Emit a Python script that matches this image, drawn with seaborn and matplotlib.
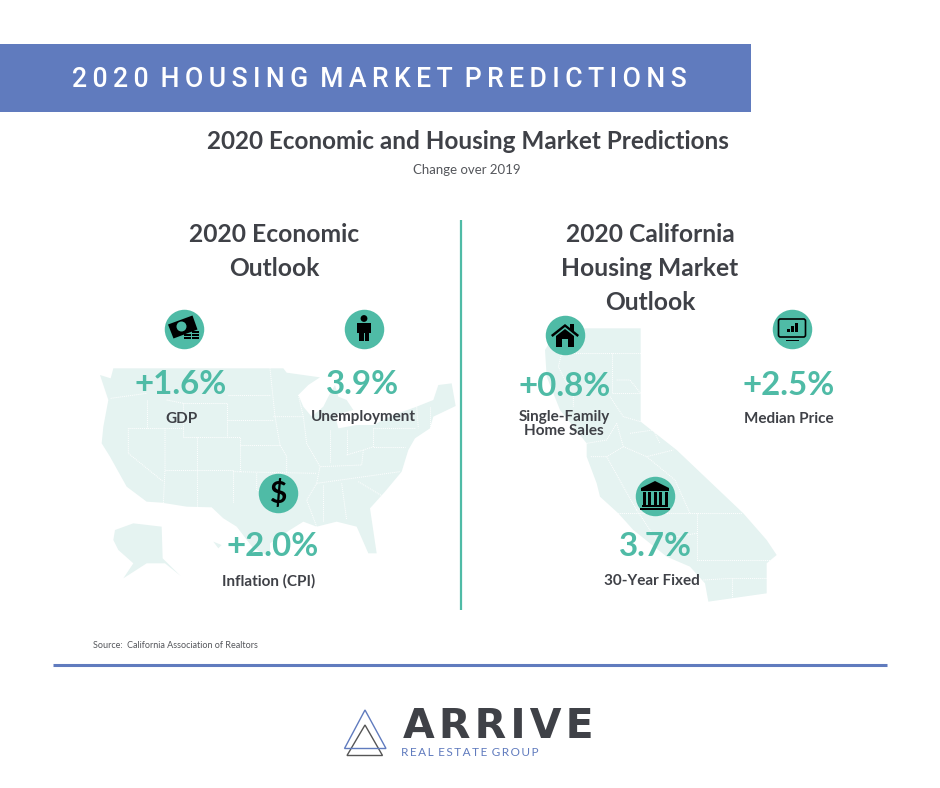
import matplotlib
matplotlib.use("Agg")
import matplotlib.pyplot as plt
from matplotlib.patches import Rectangle, Polygon, Circle, FancyBboxPatch
import numpy as np
import pandas as pd
import seaborn as sns

# ---- data ----
band_title = "2020 HOUSING MARKET PREDICTIONS"
title = "2020 Economic and Housing Market Predictions"
subtitle = "Change over 2019"
left_heading = ["2020 Economic", "Outlook"]
right_heading = ["2020 California", "Housing Market", "Outlook"]
metric_values = ["+1.6%", "3.9%", "+2.0%", "+0.8%", "+2.5%", "3.7%"]
metric_labels = ["GDP", "Unemployment", "Inflation (CPI)", "Single-Family\nHome Sales", "Median Price", "30-Year Fixed"]
source = "Source:  California Association of Realtors"
brand = "ARRIVE"
brand_sub = "REAL ESTATE GROUP"

# ---- layout (pixel positions) ----
icon_x = [183.5, 364, 278, 565, 792, 655]
icon_y = [328.5, 328.5, 492.5, 335, 329, 496]
value_x = [181, 362, 273, 565, 789, 655]
value_y = [384.5, 384.5, 546.5, 386.5, 385.5, 546.5]
label_x = [182, 363, 269, 564, 789, 652]
label_y = [419, 417, 581, 424, 419, 581]

TEAL = "#4fbba6"
BLUE = "#607bbe"
DARK = "#3f4147"
MAP = "#e5f3f1"
SANS = "Lato"

sns.set_theme(style="white")
fig = plt.figure(figsize=(9.40, 7.88), dpi=100, facecolor="white")
ax = fig.add_axes([0, 0, 1, 1])
ax.set_xlim(0, 940)
ax.set_ylim(788, 0)
ax.axis("off")


def px(p):
    return p * 0.72


def zoom_pts(pts, ox, oy):
    return [(x / 3 + ox, y / 3 + oy) for x, y in pts]


# ---- USA map ----
US_O = (90, 300)
us = [(30, 225), (62, 235), (70, 205), (580, 205), (590, 218), (640, 225), (690, 232), (655, 255), (625, 285),
      (640, 320), (665, 350), (700, 320), (715, 290), (735, 255), (745, 290), (770, 300), (790, 330), (735, 345),
      (745, 385), (800, 375), (850, 375), (910, 345), (980, 320), (1030, 300), (1045, 255), (1085, 250), (1097, 318),
      (1030, 350), (1020, 385), (975, 415), (955, 450), (935, 515), (885, 575), (840, 625), (860, 760), (835, 760),
      (800, 680), (740, 665), (680, 680), (640, 665), (600, 690), (540, 730), (540, 770), (490, 745), (440, 680),
      (400, 655), (365, 622), (290, 620), (215, 608), (170, 605), (110, 560), (60, 470), (35, 430), (40, 380),
      (55, 300)]
alaska = [(75, 690), (130, 670), (215, 680), (218, 775), (272, 828), (225, 790), (170, 790), (100, 835), (130, 790),
          (85, 750), (70, 720)]
hawaii = [(370, 725), (395, 735), (385, 745)]
for shape_pts in (us, alaska, hawaii):
    ax.add_patch(Polygon(zoom_pts(shape_pts, *US_O), closed=True, fc=MAP, ec="none", zorder=1))
us_lines = [
    [(280, 310), (410, 310), (410, 410)], [(280, 310), (280, 410), (450, 410), (450, 515)],
    [(320, 410), (320, 620)], [(225, 385), (225, 510), (220, 610)], [(115, 385), (280, 385)],
    [(115, 385), (115, 460), (220, 545)], [(225, 510), (430, 510), (430, 610)], [(430, 515), (680, 520)],
    [(410, 360), (550, 360)], [(415, 285), (540, 285)], [(540, 205), (555, 350), (570, 435), (590, 470), (590, 515)],
    [(550, 350), (640, 350), (650, 430), (690, 500), (680, 550), (650, 600), (680, 680)],
    [(450, 435), (570, 435)], [(680, 550), (930, 515)], [(700, 555), (700, 665)], [(755, 550), (770, 660)],
    [(805, 545), (880, 590)], [(720, 390), (720, 490)], [(770, 390), (770, 465)], [(850, 385), (850, 440), (945, 440)],
    [(770, 465), (820, 450), (850, 440)], [(820, 450), (815, 495), (690, 500)], [(850, 385), (975, 385)],
    [(980, 320), (985, 385)], [(1020, 320), (1020, 385)], [(170, 300), (170, 385)], [(62, 295), (170, 280)],
    [(625, 285), (640, 350)], [(230, 300), (280, 310)], [(500, 520), (500, 570), (560, 590), (610, 585)],
]
for line in us_lines:
    xs, ys = zip(*zoom_pts(line, *US_O))
    ax.plot(xs, ys, color="white", lw=0.7, ls=(0, (1, 1)), zorder=2)

# ---- California map ----
CA_O = (490, 300)
ca = [(205, 85), (452, 85), (452, 365), (560, 450), (760, 640), (830, 720), (860, 765), (830, 790), (830, 880),
      (655, 905), (645, 850), (600, 800), (530, 770), (430, 690), (385, 640), (330, 590), (320, 550), (290, 470),
      (290, 430), (210, 330), (170, 230), (165, 150)]
ax.add_patch(Polygon(zoom_pts(ca, *CA_O), closed=True, fc=MAP, ec="none", zorder=1))
ca_lines = [
    [(205, 160), (452, 160)], [(365, 160), (365, 280), (452, 280)], [(215, 160), (205, 200), (250, 290), (250, 320)],
    [(360, 640), (755, 640)], [(620, 640), (620, 780), (860, 780)], [(725, 835), (830, 835)], [(725, 835), (725, 900)],
    [(640, 840), (725, 835)], [(380, 240), (420, 240), (452, 280)], [(360, 290), (400, 350), (452, 365)],
    [(380, 370), (400, 440), (350, 470), (300, 470)], [(400, 440), (470, 470), (550, 450)],
    [(350, 470), (400, 560), (440, 630)], [(470, 470), (555, 540), (600, 640)], [(440, 630), (500, 720), (620, 700)],
    [(290, 430), (350, 420), (380, 370)], [(420, 400), (490, 390), (510, 430)],
]
for line in ca_lines:
    xs, ys = zip(*zoom_pts(line, *CA_O))
    ax.plot(xs, ys, color="white", lw=0.7, ls=(0, (1, 1)), zorder=2)

# ---- header band ----
ax.add_patch(Rectangle((0, 44), 751, 68, fc=BLUE, ec="none", zorder=3))
spaced = "\u2009".join(band_title).replace("\u2009 \u2009", " \u2009")
ax.text(72, 76.5, spaced, color="white", fontsize=px(26.6), fontweight="medium", family=["Roboto", "DejaVu Sans"],
        ha="left", va="center_baseline", zorder=4)

ax.text(467.5, 141.5, title, color=DARK, fontsize=px(24.2), fontweight="bold", family=SANS, ha="center", va="center", zorder=4)
ax.text(466.5, 170, subtitle, color="#55575c", fontsize=px(13.2), family=SANS, ha="center", va="center", zorder=4)

for i, t in enumerate(left_heading):
    ax.text(274, 234.5 + 34 * i, t, color=DARK, fontsize=px(24.6), fontweight="bold", family=SANS, ha="center", va="center", zorder=4)
for i, t in enumerate(right_heading):
    ax.text(650, 234.5 + 34 * i, t, color=DARK, fontsize=px(24.6), fontweight="bold", family=SANS, ha="center", va="center", zorder=4)

ax.plot([461, 461], [220, 610], color=TEAL, lw=1.6, zorder=3, solid_capstyle="butt")

# ---- icon discs (seaborn) ----
discs = pd.DataFrame({"x": icon_x, "y": icon_y, "metric": metric_labels})
sns.scatterplot(data=discs, x="x", y="y", s=px(39.5) ** 2, color=TEAL, linewidth=0, legend=False, ax=ax, zorder=5)
ax.set_xlim(0, 940)
ax.set_ylim(788, 0)
ax.set_xlabel("")
ax.set_ylabel("")


def shape(pts, cx, cy, color="black", z=6):
    ax.add_patch(Polygon([(cx + a, cy + b) for a, b in pts], closed=True, fc=color, ec="none", zorder=z))


def rect(x0, y0, w, h, cx, cy, color="black", z=6):
    ax.add_patch(Rectangle((cx + x0, cy + y0), w, h, fc=color, ec="none", zorder=z))


# money
cx, cy = icon_x[0], icon_y[0]
shape([(-15.5, -4), (9, -13), (14, 1), (-10, 10)], cx, cy)
ax.add_patch(Circle((cx - 2, cy - 2), 5, fc=TEAL, ec="none", zorder=7))
for ox, oy in ((0, 5), (0, 8), (8, 2), (8, 5), (8, 8)):
    rect(ox, oy, 7.5, 2.8, cx, cy, color="black", z=8)
    rect(ox + 0.8, oy + 1.1, 5.9, 0.6, cx, cy, color=TEAL, z=9)
# person
cx, cy = icon_x[1], icon_y[1]
ax.add_patch(Circle((cx, cy - 10), 3.4, fc="black", ec="none", zorder=6))
shape([(-7, -5.5), (7, -5.5), (7, 4), (4.8, 4), (4.8, 12.5), (0.5, 12.5), (0.5, 4), (-0.5, 4), (-0.5, 12.5),
       (-4.8, 12.5), (-4.8, 4), (-7, 4)], cx, cy)
# dollar
ax.text(icon_x[2], icon_y[2] + 0.5, "$", color="black", fontsize=px(30), fontweight="bold", family=SANS, ha="center", va="center", zorder=6)
# house
cx, cy = icon_x[3], icon_y[3]
shape([(-14, 0), (0, -11), (5, -7), (5, -11), (9, -11), (9, -4), (14, 0), (12.5, 2), (0, -8), (-12.5, 2)], cx, cy)
shape([(-9, 1), (0, -6), (9, 1), (9, 12), (3, 12), (3, 4), (-3, 4), (-3, 12), (-9, 12)], cx, cy)
# monitor
cx, cy = icon_x[4], icon_y[4]
ax.add_patch(FancyBboxPatch((cx - 13.5, cy - 10), 27, 18, boxstyle="round,pad=0,rounding_size=2", fc="none", ec="black", lw=1.2, zorder=6))
rect(-5, 0, 2.5, 3, cx, cy)
rect(-1, -3, 2.5, 6, cx, cy)
rect(3, -6, 2.5, 9, cx, cy)
rect(-6.5, 10.5, 13, 1.6, cx, cy)
# bank
cx, cy = icon_x[5], icon_y[5]
shape([(-14, -8), (0, -15), (14, -8), (14, -5), (-14, -5)], cx, cy)
for dx in (-11, -5.5, 0, 5.5, 11):
    rect(dx - 1.5, -4, 3, 13, cx, cy)
rect(-13, 9, 26, 2, cx, cy)
rect(-15, 12, 30, 2.4, cx, cy)

# ---- metrics ----
for vx, vy, v in zip(value_x, value_y, metric_values):
    ax.text(vx, vy, v, color=TEAL, fontsize=px(33), fontweight="bold", family=SANS, ha="center", va="center", zorder=6)
for lx, ly, l in zip(label_x, label_y, metric_labels):
    ax.text(lx, ly, l, color=DARK, fontsize=px(15.2), fontweight="bold", family=SANS, ha="center", va="center",
            linespacing=1.05, zorder=6)

# ---- footer ----
ax.text(93, 646, source, color="#55575c", fontsize=px(9), family=SANS, ha="left", va="center", zorder=4)
ax.plot([53, 887], [665, 665], color=BLUE, lw=2.2, zorder=3, solid_capstyle="butt")
ax.add_patch(Polygon([(365, 725), (347, 755.5), (382.5, 755.5)], closed=True, fc="none", ec="#555", lw=1.0, zorder=5))
ax.add_patch(Polygon([(365, 710), (344.5, 748.5), (386, 748.5)], closed=True, fc="none", ec=BLUE, lw=1.0, zorder=6))
ax.text(403, 723, "\u200a".join(brand), color=DARK, fontsize=px(41), fontweight="bold", family="DejaVu Sans", ha="left", va="center_baseline", zorder=5)
ax.text(401, 752.5, "\u2009".join(brand_sub).replace("\u2009 \u2009", " \u2009"), color=BLUE, fontsize=px(11.8), family=["Lato", "DejaVu Sans"], ha="left", va="center", zorder=5)

fig.savefig("out.png", dpi=100, facecolor="white")
